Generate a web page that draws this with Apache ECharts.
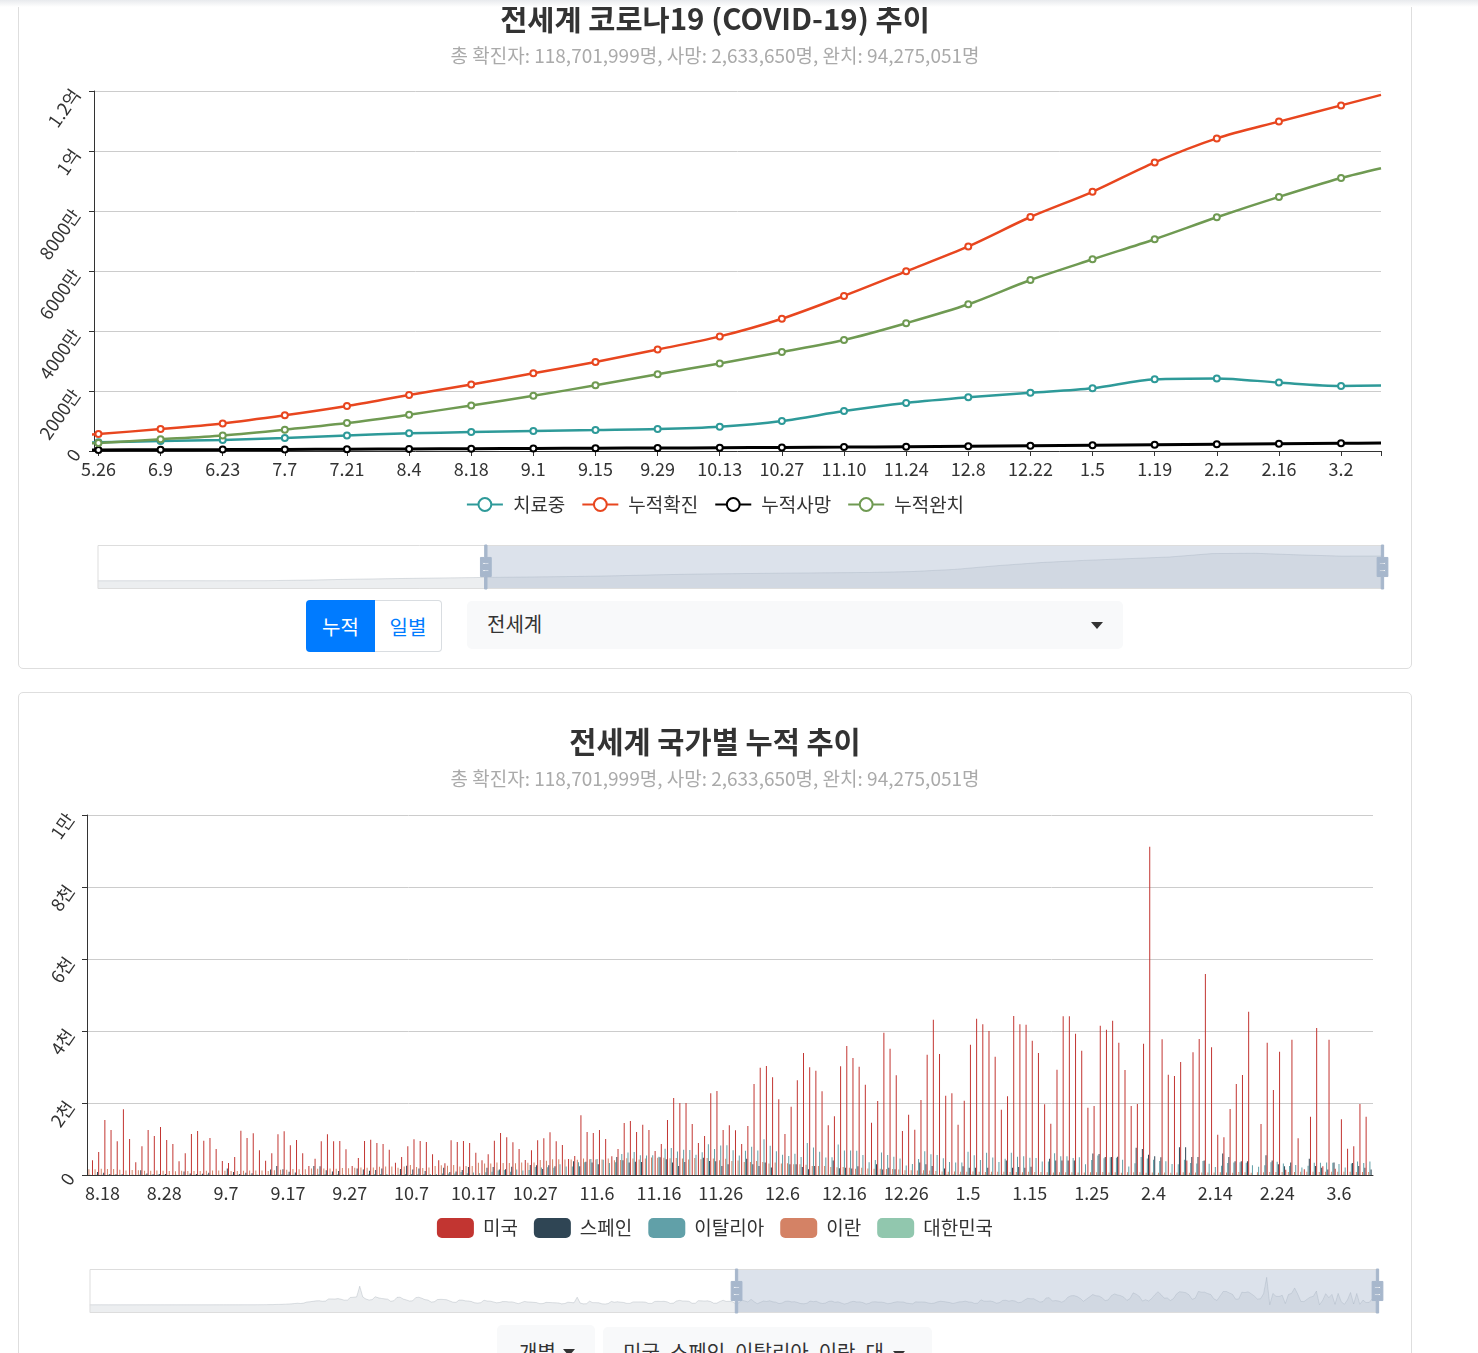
<!DOCTYPE html>
<html>
<head>
<meta charset="utf-8">
<script src="https://cdn.jsdelivr.net/npm/echarts/dist/echarts.min.js"></script>
<style>
html,body{margin:0;padding:0;width:1478px;height:1353px;overflow:hidden;background:#fff;font-family:"Noto Sans CJK KR","Noto Sans",sans-serif;}
.topbar{position:absolute;left:0;top:0;width:1478px;height:7px;background:linear-gradient(#e8eaed,#ffffff);z-index:5;}
.card{position:absolute;left:18px;width:1392px;border:1px solid #dedede;border-radius:5px;background:#fff;}
#card1{top:-20px;height:687px;}
#card2{top:692px;height:720px;}
#chart1{position:absolute;left:19px;top:0;width:1392px;height:600px;}
#chart2{position:absolute;left:19px;top:692px;width:1392px;height:640px;}
.btn{position:absolute;box-sizing:border-box;display:flex;align-items:center;justify-content:center;font-size:20px;}
#b1{left:306px;top:600px;width:69px;height:52px;background:#007bff;color:#fff;border-radius:4px 0 0 4px;}
#b2{left:375px;top:600px;width:67px;height:52px;background:#fff;color:#007bff;border:1px solid #d9dde1;border-left:none;border-radius:0 4px 4px 0;}
.sel{position:absolute;box-sizing:border-box;background:#f8f9fa;border-radius:5px;font-size:20px;color:#333;}
#s1{left:467px;top:601px;width:656px;height:48px;padding-left:20px;line-height:46px;}
.caret{position:absolute;width:0;height:0;border-left:6px solid transparent;border-right:6px solid transparent;border-top:7px solid #333;}
#s2a{left:497px;top:1325px;width:98px;height:60px;padding-left:22px;padding-top:12px;}
#s2b{left:603px;top:1327px;width:329px;height:60px;padding-left:20px;padding-top:10px;white-space:nowrap;}
#s2b .t{display:inline-block;max-width:261px;overflow:hidden;vertical-align:top;}
</style>
</head>
<body>
<div class="topbar"></div>
<div class="card" id="card1"></div>
<div class="card" id="card2"></div>
<div id="chart1"></div>
<div id="chart2"></div>
<div class="btn" id="b1">누적</div>
<div class="btn" id="b2">일별</div>
<div class="sel" id="s1">전세계<span class="caret" style="left:624px;top:21px;"></span></div>
<div class="sel" id="s2a">개별<span class="caret" style="left:66px;top:24px;"></span></div>
<div class="sel" id="s2b"><span class="t">미국, 스페인, 이탈리아, 이란, 대한민국</span><span class="caret" style="left:290px;top:24px;"></span></div>
<script>
// ---------- Chart 1 data (day index from 2020-01-21, biweekly readings) ----------
const dayIdx = [0,14,28,42,56,70,84,98,112,126,140,154,168,182,196,210,224,238,252,266,280,294,308,322,336,350,364,378,392,406,415];
const dayLabels = ['1.21','2.4','2.18','3.3','3.17','3.31','4.14','4.28','5.12','5.26','6.9','6.23','7.7','7.21','8.4','8.18','9.1','9.15','9.29','10.13','10.27','11.10','11.24','12.8','12.22','1.5','1.19','2.2','2.16','3.2','3.11'];
const labelDays1 = [126,140,154,168,182,196,210,224,238,252,266,280,294,308,322,336,350,364,378,392,406];
const tickDays1 = [126,140,154,168,182,196,210,224,238,252,266,280,294,308,322,336,350,364,378,392,406,415];
const activeCases = [294,22600,60200,38800,108000,638000,1394000,1933000,2470000,2900000,3300000,3700000,4300000,5200000,5900000,6300000,6700000,7000000,7300000,8100000,10000000,13300000,16000000,17900000,19400000,20900000,23900000,24200000,22800000,21700000,21800000];
const confirmedCum = [300,24000,75000,93000,198000,860000,1980000,3100000,4260000,5670000,7300000,9200000,11900000,15000000,18700000,22200000,25900000,29700000,33800000,38200000,44100000,51700000,59900000,68200000,78000000,86400000,96200000,104200000,109800000,115200000,118702000];
const deathsCum = [6,490,2000,3200,8000,42000,126000,217000,290000,350000,410000,470000,540000,610000,700000,780000,860000,940000,1000000,1080000,1200000,1300000,1450000,1600000,1750000,1900000,2080000,2270000,2430000,2550000,2634000];
const recoveredCum = [0,900,12800,51000,82000,180000,460000,950000,1500000,2670000,3900000,5200000,7100000,9300000,12100000,15200000,18400000,21900000,25600000,29200000,33000000,37000000,42600000,48900000,57000000,63900000,70600000,77900000,84700000,91000000,94275000];
const yTicks1 = [0,20000000,40000000,60000000,80000000,100000000,120000000];

// ---------- Chart 2 data (daily, from 2020-01-21) ----------
const startDate = [2020,0,21];
const dayCount = 416;
const windowStart = 208; // 8.16
const usDaily = [
0,0,0,0,0,0,0,0,0,0,0,0,0,0,0,0,0,0,0,0,0,0,0,0,0,0,0,0,0,0,0,0,0,0,0,0,0,0,0,0,
1,5,1,4,1,2,3,4,4,5,8,7,10,10,11,23,24,37,49,47,96,117,140,200,250,296,400,510,400,570,920,
1000,1150,1300,1330,1160,1240,1940,1940,1900,2040,1830,1530,1530,2400,2500,2600,6150,2550,1900,1560,1700,2650,2300,2100,1950,1850,1150,1350,2450,2500,
1900,1600,1250,1300,2350,2500,2150,1700,1550,900,1000,1700,1800,1750,1650,1250,850,800,1550,1550,1300,1250,1050,650,550,700,1500,1250,1200,950,650,
750,1050,1050,950,950,700,350,700,1100,950,900,800,700,350,400,800,750,700,650,600,300,400,850,750,650,2500,550,300,350,1200,
700,700,650,300,250,400,1100,850,1000,850,750,450,450,950,950,950,950,850,450,450,1100,1150,1100,1150,950,450,550,1250,1450,1250,1250,
1150,500,500,1350,1300,1250,1300,1050,500,550,1100,1500,1100,1150,1000,
407,639,1528,1250,935,1824,1000,352,796,1250,1083,1333,972,861,380,602,1139,1222,954,1028,
722,389,333,500,1232,1028,1157,685,398,602,1130,1213,824,972,602,250,454,935,1130,935,
944,713,250,472,944,981,889,861,704,343,500,796,991,944,917,574,407,324,963,917,
944,889,620,407,574,954,1167,1046,907,722,417,685,963,1019,1185,935,833,444,528,1657,
1194,1167,1250,1000,519,722,1444,1500,1194,1398,1250,667,861,1528,2139,2000,2000,1417,889,1083,
2269,2333,1250,1380,1241,861,1361,2528,2982,3028,2713,2102,1139,1898,2630,3389,2991,2898,2324,1380,
1630,3019,3584,3250,3010,2510,1454,2056,3954,3510,2769,1222,1676,1259,2083,3343,4315,3361,2204,2269,
1398,2065,3620,4343,4185,4000,3287,1815,2185,4417,4185,4176,3732,3389,1963,1426,2926,4408,4408,3926,
3454,1870,1917,4148,4037,4287,3676,2917,1917,1972,3648,9120,0,3769,2787,2750,3139,400,3408,3778,
5584,3547,1120,1046,1833,2528,2778,4537,0,1417,3676,2361,3426,148,3759,1019,157,1620,4084,240,
3759,176,1546,731,796,1972,1620,0];
const spainDaily = [
0,80,60,25,20,20,0, 0,130,45,20,30,25,0, 0,100,40,30,35,60,0, 0,180,80,30,60,50,0,
0,150,250,160,90,70,0, 0,250,240,130,100,110,0, 0,180,150,120,140,180,0, 0,170,260,150,180,110,0,
0,200,80,100,140,220,0, 0,200,220,150,160,230,0, 0,280,270,170,270,240,0, 0,380,240,370,350,300,0,
0,500,410,350,370,360,0, 0,490,440,350,250,360,0, 0,480,390,380,250,300,0, 0,450,300,250,350,210,0,
0,300,300,220,160,250,0, 0,400,190,200,180,240,0, 0,300,150,200,160,0,0, 0,350,300,250,0,180,0,
0,240,200,200,0,200,0, 0,400,200,220,200,230,0, 0,450,400,400,400,400,0, 0,600,580,500,500,510,0,
0,760,720,560,520,490,0, 0,770,770,500,500,400,0, 0,600,500,380,380,380,0, 0,550,400,300,240,350,0,
0,450,250,200,150,350,0, 0,330,250,200,150];
const italyDaily = [
4,4,7,6,9,6,9, 7,4,13,5,13,9,1, 4,6,6,6,10,11,7, 7,14,10,10,10,10,14,
7,9,9,20,12,10,24, 14,15,20,19,17,13,13, 15,17,24,24,23,27,27, 18,16,28,31,22,28,29,
26,39,41,43,83,47,69, 47,73,89,127,136,91,151, 128,141,221,205,217,199,297, 236,233,353,352,445,446,425,
331,356,580,623,636,550,544, 546,504,731,753,653,699,692, 562,630,853,722,822,827,686, 541,672,785,684,993,814,662,
564,528,587,499,887,761,649, 484,491,846,680,683,674,553, 352,415,628,553,505,459,261, 305,445,659,575,555,462,364,
347,348,649,548,414,617,483, 361,448,616,507,522,477,475, 377,377,603,524,521,472,492, 299,420,541,467,492,477,421,
237,329,499,456,421,391,385, 307,300,422,336,316,391,311, 221,258,336,347,353,343,274, 232,274,356,369,318,253,280,
209,255,343,339,347,339,307, 207,318,376,332,373];
const iranDaily = [
159,160,174,170,166,144,125, 140,130,119,115,126,117,113, 107,117,112,110,113,119,127, 126,116,112,114,119,123,126,
124,113,132,143,144,166,162, 160,179,175,181,178,172,192, 188,200,211,200,207,229,239, 235,201,239,279,221,195,210,
251,272,254,279,239,251,253, 337,322,322,346,335,331,325, 346,337,346,415,399,439,440, 434,431,421,459,440,429,434,
459,408,415,462,457,431,461, 486,482,479,462,469,458,431, 475,440,469,459,413,448,391, 405,362,358,388,358,321,350,
321,323,300,298,284,252,251, 247,221,217,221,199,175,201, 179,172,173,166,167,150,131, 135,123,134,123,114,98,92,
96,92,88,96,90,85,89, 91,91,81,82,79,87,84, 80,76,71,73,74,75,71, 68,77,78,80,71,74,64,
73,73,74,62,70,60,71, 63,68,73,64,67,68,70, 69,77,71,62,80,77,65, 78,77,80,82,82,84,83,
87,92,88,83,90,88,90, 93,93,81,81,84];
const koreaDaily = [
0,1,0,0,1,0,1, 0,1,0,2,1,1,0, 2,1,0,1,2,1,1, 1,2,3,1,1,3,2,
2,1,2,5,3,2,1, 1,3,3,2,2,1,1, 2,2,1,2,1,3,0, 1,2,1,1,2,1,0,
1,1,0,2,1,1,1, 1,3,2,2,2,1,1, 2,2,3,2,3,2,1, 1,2,2,1,1,1,1,
2,2,1,2,2,3,1, 0,1,2,3,0,2,1, 1,2,5,2,3,5,2, 4,4,3,8,5,7,4,
3,6,5,12,10,8,5, 7,13,12,22,13,12,22, 24,9,15,17,24,15,25, 20,11,40,20,19,20,25,
19,20,14,20,19,15,19, 10,18,15,12,17,10,10, 11,6,8,10,9,11,8, 3,6,2,8,6,5,3,
6,3,10,4,7,5,5, 1,4,4,9,8,3,6, 4,5,1,3,9,1,4, 2,1,1,2,3,2,3,
2,3,2,3,3,4,2, 5,1,4,3,3];
const yTicks2 = [0,2000,4000,6000,8000,10000];
const countryNames = ['미국','스페인','이탈리아','이란','대한민국'];
const countryColors = ['#c23531','#2f4554','#61a0a8','#d48265','#91c7ae'];

const FONT = '"Noto Sans CJK KR","Noto Sans",sans-serif';
const SUBTEXT = '총 확진자: 118,701,999명, 사망: 2,633,650명, 완치: 94,275,051명';
const V4HANDLE = 'M8.2,13.6V3.9H6.3v9.7H3.1v14.9h3.3v9.7h1.8v-9.7h3.3V13.6H8.2z M9.7,24.4H4.8v-1.4h4.9V24.4z M9.7,19.1H4.8v-1.4h4.9V19.1z';

function sliderStyle(extra){
  return Object.assign({
    type:'slider', showDetail:false, brushSelect:false, moveHandleSize:0,
    handleIcon:V4HANDLE, handleSize:'100%',
    handleStyle:{color:'#a7b7cc', borderColor:'#a7b7cc'},
    emphasis:{handleStyle:{color:'#a7b7cc', borderColor:'#a7b7cc'}},
    fillerColor:'rgba(167,183,204,0.4)', borderColor:'#ddd', backgroundColor:'rgba(47,69,84,0)',
    dataBackground:{lineStyle:{color:'#2f4554',width:0.5,opacity:0.3}, areaStyle:{color:'rgba(47,69,84,0.3)',opacity:0.3}},
    selectedDataBackground:{lineStyle:{color:'#2f4554',width:0.5,opacity:0.3}, areaStyle:{color:'rgba(47,69,84,0.3)',opacity:0.3}}
  }, extra);
}
function fmtMan(v){
  if (v === 0) return '0';
  if (v >= 1e8) return (v/1e8) + '억';
  return (v/1e4) + '만';
}
function fmtChun(v){
  if (v === 0) return '0';
  if (v >= 10000) return (v/10000) + '만';
  return (v/1000) + '천';
}
function pairs(arr){
  return dayIdx.map((d,i) => d === 415 ? {value:[d, arr[i]], symbol:'none'} : [d, arr[i]]);
}
const titleStyle = {fontSize:29.5, fontWeight:'bold', color:'#333', fontFamily:FONT};
const subStyle = {fontSize:19, color:'#aaa', fontFamily:FONT};

// ---------- Chart 1 ----------
const c1 = echarts.init(document.getElementById('chart1'));
const lineSeries = [
  ['치료중', activeCases, '#2e9a99', 2.5],
  ['누적확진', confirmedCum, '#e8461f', 2.5],
  ['누적사망', deathsCum, '#000000', 3],
  ['누적완치', recoveredCum, '#6f9a52', 2.5]
].map(([name, arr, color, w]) => ({
  name, type:'line', smooth:0.3, symbol:'emptyCircle', symbolSize:6,
  lineStyle:{width:w, color}, itemStyle:{color, borderWidth:1.5},
  data: pairs(arr)
}));
c1.setOption({
  animation:false,
  textStyle:{fontFamily:FONT},
  title:{text:'전세계 코로나19 (COVID-19) 추이', subtext:SUBTEXT, left:'center', top:-1, itemGap:13,
    textStyle:titleStyle, subtextStyle:subStyle},
  legend:{top:490, left:'center', itemWidth:36, itemHeight:16, itemGap:16,
    textStyle:{fontSize:19, color:'#333', fontFamily:FONT, padding:[0,0,0,5]}, data:lineSeries.map(s=>s.name)},
  grid:{left:75, right:30, top:91, bottom:149},
  xAxis:{type:'value', min:0, max:415,
    axisLine:{lineStyle:{color:'#333'}},
    axisTick:{customValues:tickDays1, lineStyle:{color:'#333'}},
    splitLine:{show:false},
    axisLabel:{customValues:labelDays1, fontSize:18, color:'#333', margin:9, fontFamily:FONT,
      formatter:v => { const k = dayIdx.indexOf(v); return k >= 0 ? dayLabels[k] : ''; }}},
  yAxis:{type:'value', min:yTicks1[0], max:yTicks1[yTicks1.length-1], interval:yTicks1[1]-yTicks1[0],
    axisLine:{show:true, lineStyle:{color:'#333'}}, axisTick:{show:true, lineStyle:{color:'#333'}},
    splitLine:{lineStyle:{color:'#ccc'}},
    axisLabel:{rotate:55, fontSize:18, color:'#333', margin:18, fontFamily:FONT, formatter:fmtMan}},
  dataZoom:[sliderStyle({xAxisIndex:0, startValue:125, endValue:415, filterMode:'none', left:76, right:30, top:545, height:44})],
  series:lineSeries
});

// ---------- Chart 2 ----------
const dates = [];
for (let i = 0; i < dayCount; i++) {
  const d = new Date(startDate[0], startDate[1], startDate[2] + i);
  dates.push((d.getMonth()+1) + '.' + d.getDate());
}
const winPairs = arr => arr.map((v,i) => [windowStart + i, v]);
const barDefs = [
  [4, winPairs(koreaDaily)],
  [3, winPairs(iranDaily)],
  [2, winPairs(italyDaily)],
  [1, winPairs(spainDaily)],
  [0, usDaily]
];
const c2 = echarts.init(document.getElementById('chart2'));
c2.setOption({
  animation:false,
  textStyle:{fontFamily:FONT},
  title:{text:'전세계 국가별 누적 추이', subtext:SUBTEXT, left:'center', top:30, itemGap:13,
    textStyle:titleStyle, subtextStyle:subStyle},
  legend:{top:521, left:'center', icon:'roundRect', itemWidth:37, itemHeight:20, itemGap:16,
    textStyle:{fontSize:19, color:'#333', fontFamily:FONT, padding:[0,0,0,4]}, data:countryNames},
  grid:{left:68, right:38, top:123, bottom:157},
  xAxis:{type:'category', data:dates,
    axisLine:{lineStyle:{color:'#333'}}, axisTick:{lineStyle:{color:'#333'}},
    axisLabel:{interval:9, fontSize:18, color:'#333', margin:9, fontFamily:FONT}},
  yAxis:{type:'value', min:yTicks2[0], max:yTicks2[yTicks2.length-1], interval:yTicks2[1]-yTicks2[0],
    axisLine:{show:true, lineStyle:{color:'#333'}}, axisTick:{show:true, lineStyle:{color:'#333'}},
    splitLine:{lineStyle:{color:'#ccc'}},
    axisLabel:{rotate:55, fontSize:18, color:'#333', margin:17, fontFamily:FONT, formatter:fmtChun}},
  dataZoom:[sliderStyle({xAxisIndex:0, startValue:windowStart, endValue:dayCount-1, left:68, right:35, top:577, height:44})],
  series:[
    // invisible trace of the US series: gives the slider its data shadow
    {name:'미국 추이', type:'line', data:usDaily, symbol:'none', showSymbol:false, silent:true,
     lineStyle:{width:0, opacity:0}, itemStyle:{color:countryColors[0]}, z:0}
  ].concat(barDefs.map(([k, data]) => ({
    name:countryNames[k], type:'bar', data, barGap:'20%', barCategoryGap:'10%', itemStyle:{color:countryColors[k]}
  })))
});
</script>
</body>
</html>
